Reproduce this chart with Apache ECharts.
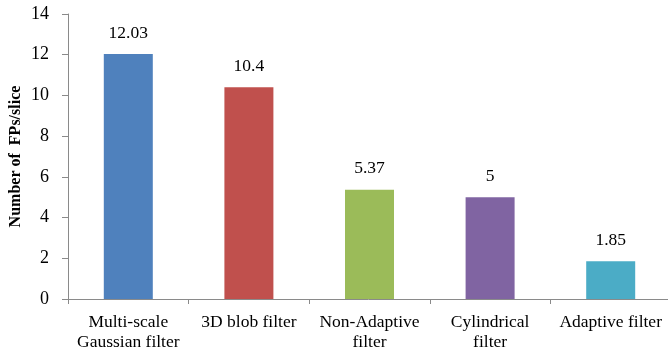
<!DOCTYPE html>
<html>
<head>
<meta charset="utf-8">
<script src="https://cdn.jsdelivr.net/npm/echarts@6/dist/echarts.min.js"></script>
<style>
  html, body { margin: 0; padding: 0; background: #fff; }
  #chart { width: 668px; height: 350px; }
</style>
</head>
<body>
<div id="chart"></div>
<script>
// Filter names along the x axis
const categories = [
  'Multi-scale\nGaussian filter',
  '3D blob filter',
  'Non-Adaptive\nfilter',
  'Cylindrical\nfilter',
  'Adaptive filter'
];
// False positives per slice for each filter
const fpsPerSlice = [12.03, 10.4, 5.37, 5, 1.85];
// Per-bar fill colours
const barColors = ['#4F81BD', '#C0504D', '#9BBB59', '#8064A2', '#4BACC6'];
// Y axis range
const yMin = 0, yMax = 14, yStep = 2;

const serif = '"Liberation Serif", "Times New Roman", serif';
const axisGray = '#8A8A8A';

const chart = echarts.init(document.getElementById('chart'));
chart.setOption({
  animation: false,
  grid: {
    left: 68, right: -3, top: 14, bottom: 51,
    containLabel: false, outerBoundsMode: 'none'
  },
  xAxis: {
    type: 'category',
    data: categories,
    axisLine: { lineStyle: { color: axisGray, width: 1 } },
    axisTick: { show: true, length: 5, alignWithLabel: false, lineStyle: { color: axisGray } },
    axisLabel: {
      color: '#000', fontFamily: serif, fontSize: 17.5, lineHeight: 20,
      margin: 13, interval: 0
    }
  },
  yAxis: {
    type: 'value',
    min: yMin, max: yMax, interval: yStep,
    name: 'Number of  FPs/slice',
    nameLocation: 'middle',
    nameGap: 44,
    nameMoveOverlap: false,
    nameTextStyle: { color: '#000', fontFamily: serif, fontSize: 16, fontWeight: 'bold' },
    axisLine: { show: true, lineStyle: { color: axisGray, width: 1 } },
    axisTick: { show: true, length: 6, lineStyle: { color: axisGray } },
    splitLine: { show: false },
    axisLabel: { color: '#000', fontFamily: serif, fontSize: 18, margin: 19 }
  },
  series: [{
    type: 'bar',
    barWidth: 49,
    data: fpsPerSlice.map((v, i) => ({ value: v, itemStyle: { color: barColors[i] } })),
    label: {
      show: true, position: 'top', distance: 12,
      color: '#000', fontFamily: serif, fontSize: 17.5
    }
  }]
});
</script>
</body>
</html>
